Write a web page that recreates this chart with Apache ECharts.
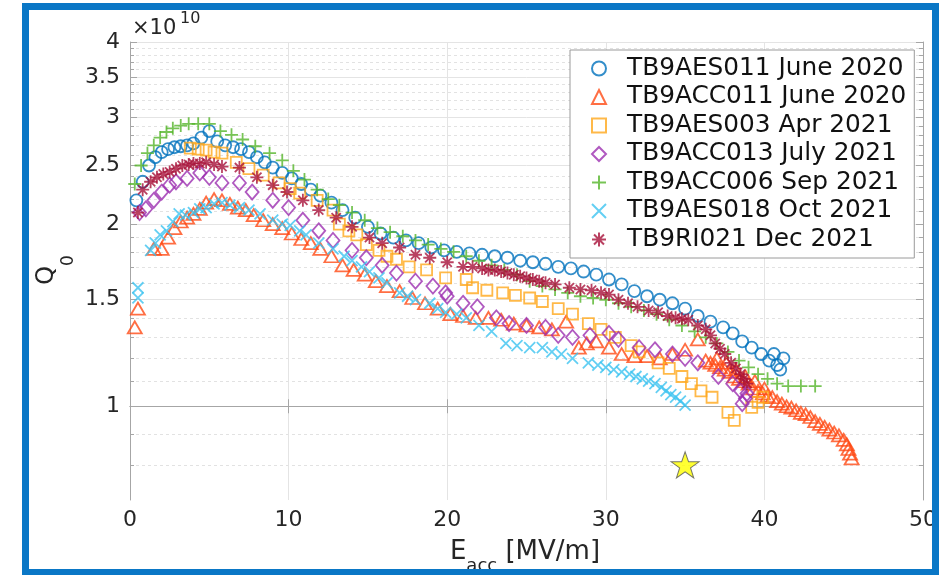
<!DOCTYPE html>
<html><head><meta charset="utf-8">
<script src="https://cdn.jsdelivr.net/npm/echarts@6/dist/echarts.min.js"></script>
<style>html,body{margin:0;padding:0;background:#fff}#c{width:940px;height:575px}</style>
</head><body><div id="c"></div>
<script>
// ---------- data (Eacc in MV/m, Q0 in units of 1e10) ----------
const seriesNames = ['TB9AES011 June 2020','TB9ACC011 June 2020','TB9AES003 Apr 2021','TB9ACC013 July 2021','TB9ACC006 Sep 2021','TB9AES018 Oct 2021','TB9RI021 Dec 2021'];
const xTicks = [0,10,20,30,40,50];
const yMajorTicks = [1,1.5,2,2.5,3,3.5,4];
const yMinorTicks = [0.8,0.9,1.1,1.2,1.3,1.4,1.6,1.7,1.8,1.9,2.1,2.2,2.3,2.4,2.6,2.7,2.8,2.9,3.1,3.2,3.3,3.4,3.6,3.7,3.8,3.9];

const aes011X = [0.4,0.8,1.2,1.6,2.0,2.4,2.8,3.2,3.6,4.0,4.5,5.0,5.5,6.0,6.5,7.0,7.5,8.0,8.5,9.0,9.6,10.2,10.8,11.4,12.0,12.7,13.4,14.2,15.0,15.8,16.6,17.4,18.2,19.0,19.8,20.6,21.4,22.2,23.0,23.8,24.6,25.4,26.2,27.0,27.8,28.6,29.4,30.2,31.0,31.8,32.6,33.4,34.2,35.0,35.8,36.6,37.4,38.0,38.6,39.2,39.8,40.3,40.8,41.2,40.6,41.0];
const aes011Y = [2.19,2.35,2.50,2.58,2.63,2.66,2.68,2.69,2.70,2.72,2.78,2.85,2.74,2.70,2.68,2.66,2.63,2.58,2.53,2.48,2.43,2.38,2.33,2.28,2.23,2.17,2.11,2.05,1.98,1.93,1.90,1.88,1.86,1.83,1.81,1.80,1.79,1.78,1.77,1.76,1.74,1.73,1.72,1.70,1.69,1.67,1.65,1.62,1.59,1.55,1.52,1.50,1.48,1.45,1.41,1.38,1.35,1.32,1.28,1.25,1.22,1.19,1.17,1.20,1.22,1.15];

const acc011X = [0.3,0.5,1.5,2.0,2.4,2.8,3.2,3.6,4.0,4.4,4.8,5.3,5.8,6.3,6.8,7.3,7.8,8.4,9.0,9.6,10.2,10.8,11.4,12.0,12.7,13.4,14.1,14.8,15.5,16.2,17.0,17.8,18.6,19.4,20.2,21.0,21.8,22.6,23.4,24.2,25.0,25.8,26.6,27.5,28.3,28.8,29.4,30.2,31.0,31.8,32.6,33.4,34.2,35.0,35.8,36.3,36.6,36.9,37.2,37.5,37.8,38.1,38.4,38.7,39.0,39.3,39.6,39.9,40.2,40.5,40.8,41.1,41.4,41.7,42.0,42.3,42.6,42.9,43.2,43.5,43.8,44.1,44.4,44.7,45.0,45.2,45.3,45.4,45.5,37.0,37.6,38.2,38.8,39.4,40.0];
const acc011Y = [1.35,1.45,1.82,1.82,1.90,1.97,2.02,2.05,2.08,2.12,2.17,2.20,2.19,2.16,2.13,2.11,2.07,2.03,2.00,1.97,1.93,1.89,1.86,1.82,1.77,1.71,1.68,1.65,1.61,1.58,1.55,1.51,1.48,1.45,1.42,1.41,1.40,1.40,1.39,1.37,1.36,1.35,1.34,1.38,1.25,1.27,1.28,1.25,1.22,1.21,1.21,1.20,1.22,1.24,1.29,1.19,1.18,1.17,1.16,1.15,1.14,1.12,1.11,1.10,1.09,1.07,1.06,1.05,1.04,1.035,1.02,1.01,1.00,0.995,0.985,0.975,0.97,0.96,0.945,0.935,0.925,0.915,0.905,0.895,0.88,0.865,0.85,0.835,0.82,1.20,1.18,1.15,1.12,1.10,1.07];

const aes003X = [3.8,4.3,4.8,5.3,5.8,6.7,7.5,8.4,9.4,10.1,10.7,11.8,12.8,13.2,13.8,14.3,14.9,15.7,16.2,16.8,17.6,18.7,19.9,21.2,21.6,22.5,23.5,24.3,25.2,26.0,27.0,27.9,28.9,29.7,30.6,31.6,32.1,33.3,34.0,34.8,35.4,36.0,36.7,37.7,38.1,39.2,39.6,39.9];
const aes003Y = [2.67,2.66,2.65,2.63,2.62,2.53,2.47,2.41,2.34,2.29,2.25,2.19,2.11,2.00,1.95,1.92,1.85,1.81,1.77,1.75,1.70,1.68,1.63,1.62,1.57,1.555,1.54,1.525,1.51,1.49,1.45,1.42,1.37,1.34,1.30,1.26,1.23,1.18,1.155,1.12,1.09,1.06,1.035,0.977,0.948,0.996,1.015,1.035];

const acc013X = [0.6,1.0,1.5,2.0,2.5,2.9,3.6,4.4,5.0,5.8,6.9,7.7,9.0,10.0,10.9,11.9,12.8,14.0,14.9,15.9,16.8,18.0,19.1,19.9,20.0,21.0,21.9,23.1,23.9,25.0,26.2,27.0,27.9,29.0,30.2,30.8,32.1,33.1,34.2,35.0,35.8,37.1,38.0,38.5,38.8,38.6,38.9];
const acc013Y = [2.09,2.12,2.19,2.26,2.32,2.35,2.38,2.43,2.39,2.34,2.34,2.26,2.19,2.13,2.03,1.95,1.88,1.81,1.76,1.71,1.66,1.61,1.58,1.54,1.52,1.48,1.46,1.40,1.37,1.36,1.35,1.31,1.30,1.31,1.32,1.29,1.25,1.24,1.22,1.20,1.18,1.12,1.09,1.06,1.03,1.01,1.05];

const acc006X = [0.3,0.7,1.1,1.5,1.9,2.3,2.7,3.2,3.7,4.3,5.0,5.7,6.4,7.1,7.9,8.8,9.6,10.3,11.0,11.8,12.5,13.2,14.0,14.8,15.6,16.4,17.2,18.0,18.8,19.6,20.4,21.2,22.0,22.8,23.6,24.4,25.2,26.0,26.8,27.6,28.4,29.2,30.0,30.8,31.6,32.4,33.2,34.0,34.8,35.6,36.3,37.0,37.7,38.4,39.0,39.6,40.2,40.8,41.5,42.3,43.2];
const acc006Y = [2.33,2.50,2.62,2.70,2.78,2.84,2.88,2.91,2.93,2.93,2.93,2.85,2.81,2.76,2.69,2.62,2.55,2.45,2.37,2.28,2.20,2.15,2.09,2.03,1.97,1.94,1.91,1.88,1.85,1.82,1.80,1.77,1.74,1.71,1.68,1.65,1.61,1.58,1.56,1.54,1.52,1.51,1.50,1.48,1.46,1.44,1.42,1.39,1.36,1.33,1.30,1.27,1.23,1.19,1.16,1.13,1.11,1.09,1.08,1.08,1.08];

const aes018X = [0.5,0.5,1.3,1.6,1.9,2.3,2.7,3.1,3.5,4.0,4.4,4.8,5.3,5.8,6.3,6.9,7.5,8.2,9.0,9.6,10.1,10.7,11.1,11.9,12.8,13.5,14.0,14.6,15.1,15.7,16.2,17.0,17.5,18.0,18.9,19.4,19.9,20.6,21.2,22.0,22.8,23.7,24.4,25.2,26.0,26.6,27.2,27.9,28.9,29.5,30.0,30.5,31.0,31.5,31.9,32.3,32.7,33.1,33.5,33.8,34.1,34.4,34.7,35.0];
const aes018Y = [1.57,1.51,1.81,1.86,1.92,1.95,2.02,2.08,2.07,2.09,2.12,2.13,2.16,2.17,2.15,2.13,2.11,2.08,2.03,2.00,1.99,1.95,1.92,1.86,1.82,1.77,1.74,1.70,1.67,1.63,1.60,1.54,1.52,1.50,1.48,1.45,1.43,1.42,1.40,1.36,1.33,1.27,1.26,1.25,1.25,1.23,1.22,1.20,1.18,1.17,1.16,1.15,1.14,1.13,1.12,1.11,1.10,1.09,1.075,1.06,1.045,1.035,1.02,1.004];

const ri021X = [0.5,0.8,1.3,1.7,2.1,2.5,2.9,3.3,3.7,4.0,4.4,4.8,5.3,5.8,6.9,8.0,9.0,9.9,10.9,11.9,13.0,14.0,15.1,15.9,17.0,18.0,18.9,20.0,21.0,21.6,22.2,22.6,23.0,23.4,23.8,24.2,24.6,25.0,25.4,25.8,26.2,26.8,27.7,28.4,29.1,29.7,30.2,30.8,31.4,32.0,32.7,33.3,33.9,34.4,34.8,35.2,35.8,36.3,36.6,36.9,37.2,37.5,37.9,38.2,38.5,38.7,38.9];
const ri021Y = [2.09,2.28,2.35,2.39,2.42,2.44,2.47,2.50,2.51,2.52,2.52,2.53,2.51,2.49,2.48,2.39,2.32,2.26,2.19,2.11,2.05,1.98,1.90,1.86,1.83,1.78,1.76,1.73,1.70,1.70,1.69,1.68,1.68,1.67,1.66,1.65,1.64,1.63,1.62,1.61,1.60,1.59,1.57,1.56,1.555,1.54,1.53,1.50,1.48,1.46,1.44,1.43,1.41,1.40,1.395,1.39,1.36,1.34,1.31,1.27,1.245,1.22,1.18,1.155,1.13,1.11,1.09];

const starX = [35];
const starY = [0.8];

// ---------- chart ----------
const FONT = 'DejaVu Sans';
const lg = v => Math.log10(v);
const Y_MIN = lg(0.7), Y_MAX = lg(4);
const majorLog = yMajorTicks.map(lg);
const minorLog = yMinorTicks.map(lg);
const pts = (xs, ys) => xs.map((x, i) => [x, lg(ys[i])]);

const colors = ['#0072BD','#FF4A14','#FFA81C','#9C2FB0','#55B52A','#3CC3F0','#A8123A'];
const symbols = [
  'circle', 'triangle', 'rect', 'diamond',
  'path://M0,-10L0,10M-10,0L10,0',
  'path://M-10,-10L10,10M-10,10L10,-10',
  'path://M0,-10L0,10M-10,0L10,0M-7.1,-7.1L7.1,7.1M-7.1,7.1L7.1,-7.1'
];
const sizes = [12, [14,12], 11, [13,15], 13, 11, 13];
const allData = [
  pts(aes011X, aes011Y), pts(acc011X, acc011Y), pts(aes003X, aes003Y),
  pts(acc013X, acc013Y), pts(acc006X, acc006Y), pts(aes018X, aes018Y), pts(ri021X, ri021Y)
];

const series = seriesNames.map((name, i) => ({
  name, type: 'scatter', xAxisIndex: 0, yAxisIndex: 0,
  symbol: symbols[i], symbolSize: sizes[i],
  data: allData[i],
  itemStyle: { color: 'rgba(0,0,0,0)', borderColor: colors[i], borderWidth: 1.8 },
  emphasis: { disabled: true }
}));
series.push({
  name: 'star', type: 'scatter', xAxisIndex: 0, yAxisIndex: 0,
  symbol: 'path://M50,0L61.8,34.5L97.6,34.5L68.5,55.9L79.4,90.5L50,69.1L20.6,90.5L31.5,55.9L2.4,34.5L38.2,34.5Z',
  symbolSize: [28, 26],
  data: pts(starX, starY),
  itemStyle: { color: '#FFFF00', borderColor: '#555555', borderWidth: 1 },
  emphasis: { disabled: true }, z: 5
});

const axisGray = '#a6a6a6';
const yBase = { type: 'value', min: Y_MIN, max: Y_MAX, gridIndex: 0 };
const option = {
  animation: false,
  backgroundColor: '#ffffff',
  grid: { left: 130, right: 15, top: 42, bottom: 75, containLabel: false },
  xAxis: [
    { type: 'value', min: 0, max: 50, interval: 10, position: 'bottom',
      axisLine: { show: true, lineStyle: { color: axisGray, width: 1 } },
      axisTick: { show: true, inside: true, length: 7, lineStyle: { color: axisGray } },
      axisLabel: { show: true, margin: 9, fontFamily: FONT, fontSize: 22, color: '#262626',
        customValues: xTicks },
      splitLine: { show: true, lineStyle: { color: '#e4e4e4', width: 1 } } },
    { type: 'value', min: 0, max: 50, interval: 10, position: 'top',
      axisLine: { show: true, lineStyle: { color: axisGray, width: 1 } },
      axisTick: { show: true, inside: true, length: 7, lineStyle: { color: axisGray } },
      axisLabel: { show: false }, splitLine: { show: false } }
  ],
  yAxis: [
    Object.assign({}, yBase, { position: 'left',
      axisLine: { show: true, lineStyle: { color: axisGray, width: 1 } },
      axisTick: { show: true, inside: true, length: 7, customValues: majorLog, lineStyle: { color: axisGray } },
      axisLabel: { show: true, margin: 10, customValues: majorLog, fontFamily: FONT, fontSize: 22, color: '#262626',
        formatter: v => String(Math.round(Math.pow(10, v) * 10) / 10) },
      splitLine: { show: true, lineStyle: { color: '#e4e4e4', width: 1 } } }),
    Object.assign({}, yBase, { position: 'left',
      axisLine: { show: false },
      axisTick: { show: true, inside: true, length: 4, customValues: minorLog, lineStyle: { color: axisGray } },
      axisLabel: { show: false },
      splitLine: { show: true, lineStyle: { color: '#e2e2e2', width: 1, type: [3, 3] } } }),
    Object.assign({}, yBase, { position: 'right',
      axisLine: { show: true, lineStyle: { color: axisGray, width: 1 } },
      axisTick: { show: true, inside: true, length: 7, customValues: majorLog, lineStyle: { color: axisGray } },
      axisLabel: { show: false }, splitLine: { show: false } }),
    Object.assign({}, yBase, { position: 'right',
      axisLine: { show: false },
      axisTick: { show: true, inside: true, length: 4, customValues: minorLog, lineStyle: { color: axisGray } },
      axisLabel: { show: false }, splitLine: { show: false } })
  ],
  legend: {
    orient: 'vertical', left: 570, top: 50,
    padding: [6, 8, 6, 21], itemGap: 3.5, itemWidth: 14, itemHeight: 14,
    backgroundColor: '#ffffff', borderColor: '#9a9a9a', borderWidth: 1,
    selectedMode: false,
    textStyle: { fontFamily: FONT, fontSize: 24.8, lineHeight: 24, color: '#111111', padding: [0, 0, 0, 16] },
    data: seriesNames
  },
  graphic: [
    { type: 'text', x: 132, y: 29, z: 50,
      style: { text: '×10', fontFamily: FONT, fontSize: 21, fill: '#262626', align: 'left', verticalAlign: 'middle' } },
    { type: 'text', x: 180, y: 19, z: 50,
      style: { text: '10', fontFamily: FONT, fontSize: 16, fill: '#262626', align: 'left', verticalAlign: 'middle' } },
    { type: 'text', x: 56, y: 270, rotation: Math.PI / 2, z: 50,
      style: { text: '{q|Q}{s|0}', align: 'center', verticalAlign: 'middle', fill: '#262626',
        rich: { q: { fontFamily: FONT, fontSize: 24, lineHeight: 24, verticalAlign: 'top', fill: '#262626' },
                s: { fontFamily: FONT, fontSize: 17, lineHeight: 42, verticalAlign: 'bottom', fill: '#262626' } } } },
    { type: 'text', x: 525, y: 557, z: 50,
      style: { text: '{e|E}{s|acc}{e| [MV/m]}', align: 'center', verticalAlign: 'middle', fill: '#262626',
        rich: { e: { fontFamily: FONT, fontSize: 26, lineHeight: 26, verticalAlign: 'top', fill: '#262626' },
                s: { fontFamily: FONT, fontSize: 18, lineHeight: 36, verticalAlign: 'bottom', fill: '#262626' } } } },
    { type: 'rect', z: 100, silent: true,
      shape: { x: 25.5, y: 6.5, width: 910, height: 566 },
      style: { fill: 'none', stroke: '#0a77c6', lineWidth: 7 } }
  ],
  series
};
const chart = echarts.init(document.getElementById('c'), null, { renderer: 'canvas' });
chart.setOption(option);
</script></body></html>
